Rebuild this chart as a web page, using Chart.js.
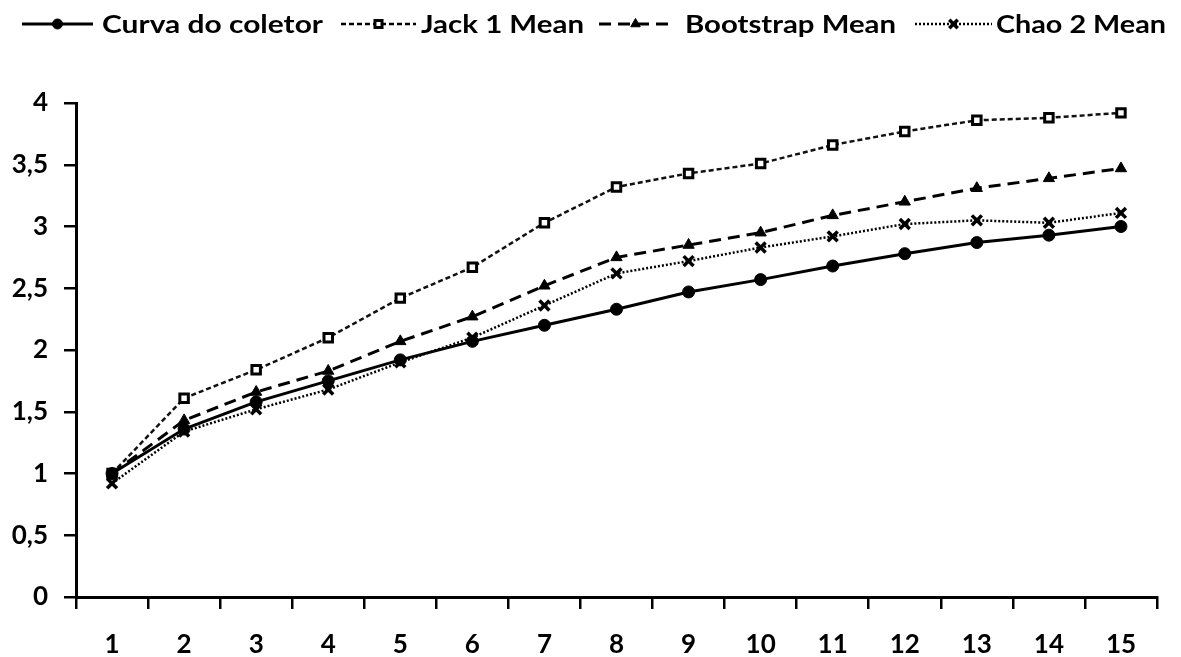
<!DOCTYPE html>
<html>
<head>
<meta charset="utf-8">
<script src="https://cdn.jsdelivr.net/npm/chart.js@4/dist/chart.umd.min.js"></script>
<style>
html,body{margin:0;padding:0;background:#fff;}
#wrap{width:1181px;height:657px;}
</style>
</head>
<body>
<div id="wrap"><canvas id="c" width="1181" height="657"></canvas></div>
<script>
const categories = ["1","2","3","4","5","6","7","8","9","10","11","12","13","14","15"];
const curvaColetor = [1.00,1.36,1.58,1.75,1.92,2.07,2.20,2.33,2.47,2.57,2.68,2.78,2.87,2.93,3.00];
const jack1Mean    = [1.00,1.61,1.84,2.10,2.42,2.67,3.03,3.32,3.43,3.51,3.66,3.77,3.86,3.88,3.92];
const bootstrapMean= [1.00,1.43,1.66,1.83,2.07,2.27,2.52,2.75,2.85,2.95,3.09,3.20,3.31,3.39,3.47];
const chao2Mean    = [0.92,1.34,1.52,1.68,1.90,2.10,2.36,2.62,2.72,2.83,2.92,3.02,3.05,3.03,3.11];
const seriesNames  = ["Curva do coletor","Jack 1 Mean","Bootstrap Mean","Chao 2 Mean"];
const yTicks = [0,0.5,1,1.5,2,2.5,3,3.5,4];

const FONT = "Lato, 'Open Sans', 'Liberation Sans', sans-serif";

const datasets = [
  {label: seriesNames[1], data: jack1Mean, borderColor:'#111', borderWidth:2.5, borderDash:[5,3],
   pointStyle:'rect', pointRadius:6, pointBackgroundColor:'#fff', pointBorderColor:'#000', pointBorderWidth:3, order:4},
  {label: seriesNames[2], data: bootstrapMean, borderColor:'#000', borderWidth:3, borderDash:[12,7],
   pointStyle:'triangle', pointRadius:6.5, pointBackgroundColor:'#000', pointBorderColor:'#000', pointBorderWidth:1, order:3},
  {label: seriesNames[3], data: chao2Mean, borderColor:'#000', borderWidth:2.5, borderDash:[2,2],
   pointStyle:'crossRot', pointRadius:7, pointBackgroundColor:'#000', pointBorderColor:'#000', pointBorderWidth:3.5, order:2},
  {label: seriesNames[0], data: curvaColetor, borderColor:'#000', borderWidth:3,
   pointStyle:'circle', pointRadius:6, pointBackgroundColor:'#000', pointBorderColor:'#000', pointBorderWidth:1, order:1}
];

const legendPlugin = {
  id:'customLegend',
  afterDraw(chart){
    const ctx = chart.ctx;
    const items = [
      {ds:3, x0:22, x1:93, tx:102, tw:221},
      {ds:0, x0:341, x1:416, tx:421, tw:163},
      {ds:1, x0:599, x1:672, tx:685, tw:211},
      {ds:2, x0:915, x1:992, tx:996, tw:170}
    ];
    const y = 24;
    ctx.save();
    items.forEach(it=>{
      const d = chart.data.datasets[it.ds];
      ctx.beginPath();
      ctx.setLineDash(d.borderDash||[]);
      ctx.lineWidth = d.borderWidth;
      ctx.strokeStyle = '#000';
      ctx.moveTo(it.x0,y); ctx.lineTo(it.x1,y); ctx.stroke();
      ctx.setLineDash([]);
      ctx.fillStyle = d.pointBackgroundColor;
      ctx.strokeStyle = d.pointBorderColor;
      ctx.lineWidth = d.pointBorderWidth;
      Chart.helpers.drawPoint(ctx, {pointStyle:d.pointStyle, radius:d.pointRadius-1, rotation:0, borderWidth:d.pointBorderWidth}, (it.x0+it.x1)/2, y);
      ctx.fillStyle = '#000';
      ctx.font = "bold 24px " + FONT;
      ctx.textBaseline = 'middle';
      ctx.textAlign = 'left';
      const w = ctx.measureText(d.label).width;
      const sx = it.tw / w;
      ctx.save();
      ctx.translate(it.tx, y+1);
      ctx.scale(sx, 1);
      ctx.fillText(d.label, 0, 0);
      ctx.restore();
    });
    ctx.restore();
  }
};

new Chart(document.getElementById('c'), {
  type:'line',
  data:{labels:categories, datasets},
  options:{
    responsive:false,
    animation:false,
    layout:{padding:{top:103, right:24, left:0, bottom:0}},
    plugins:{legend:{display:false}, tooltip:{enabled:false}},
    elements:{line:{tension:0}},
    scales:{
      x:{
        offset:true,
        grid:{offset:true, drawOnChartArea:false, drawTicks:true, tickLength:12, color:'#000', lineWidth:2.5},
        border:{display:true, color:'#000', width:3},
        ticks:{color:'#000', font:{family:FONT, size:26, weight:'bold'}, padding:20, maxRotation:0},
        afterFit(s){ s.height = 60; }
      },
      y:{
        min:0, max:4,
        afterBuildTicks(s){ s.ticks = yTicks.map(v=>({value:v})); },
        grid:{drawOnChartArea:false, drawTicks:true, tickLength:12, color:'#000', lineWidth:2.5},
        border:{display:true, color:'#000', width:3},
        ticks:{color:'#000', font:{family:FONT, size:26, weight:'bold'}, padding:16,
          callback:(v)=>String(v).replace('.',',')},
        afterFit(s){ s.width = 76; }
      }
    }
  },
  plugins:[legendPlugin]
});
</script>
</body>
</html>
